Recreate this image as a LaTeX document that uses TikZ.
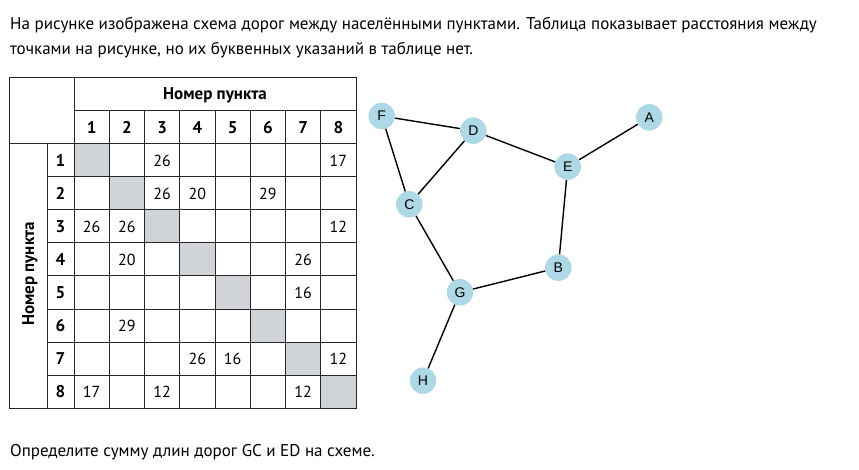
\documentclass[tikz,border=0pt]{standalone}
\usepackage{fontspec}
\setmainfont{PT Sans}
\newfontfamily\letterfont{Liberation Sans}
\usetikzlibrary{positioning}

\definecolor{cellgray}{RGB}{208,212,216}
\definecolor{townblue}{RGB}{173,216,230}

\begin{document}
\begin{tikzpicture}[
    x=1pt, y=-1pt,
    town/.style={circle, fill=townblue, minimum size=26.5pt, inner sep=0pt,
        font=\letterfont\fontsize{14}{14}\selectfont},
    road/.style={line width=1.4pt, black},
    gridline/.style={line width=1pt, black!85},
    cellnum/.style={font=\fontsize{16}{16}\selectfont, inner sep=0pt},
    headnum/.style={font=\bfseries\fontsize{17}{17}\selectfont, inner sep=0pt},
    prose/.style={anchor=west, inner sep=0pt, font=\fontsize{17}{19}\selectfont}
]
\useasboundingbox (0,0) rectangle (859,470);
\def\cw{35.25}
\def\ch{33}

% Question text
\node[prose] (intro1) at (10,25) {На рисунке изображена схема дорог между населёнными пунктами. Таблица показывает расстояния между};
\node[prose] (intro2) at (10,50) {точками на рисунке, но их буквенных указаний в таблице нет.};
\node[prose] (task) at (10,452) {Определите сумму длин дорог GC и ED на схеме.};

% Diagonal cells
\foreach \i in {1,...,8}
    \fill[cellgray] ({74+\cw*(\i-1)},{144+\ch*(\i-1)}) rectangle ++(\cw,\ch);

% Table grid
\draw[gridline] (9,78) rectangle (356,408);
\draw[gridline] (74,78) -- (74,408);
\draw[gridline] (74,111) -- (356,111);
\draw[gridline] (9,144) -- (356,144);
\draw[gridline] (47,144) -- (47,408);
\foreach \i in {1,...,7} {
    \draw[gridline] ({74+\cw*\i},111) -- ({74+\cw*\i},408);
    \draw[gridline] (47,{144+\ch*\i}) -- (356,{144+\ch*\i});
}

% Headers
\node[headnum] (coltitle) at (215,95) {Номер пункта};
\node[headnum, rotate=90] (rowtitle) at (30,274) {Номер пункта};
\foreach \i in {1,...,8} {
    \node[headnum] (col\i) at ({74+\cw*(\i-0.5)},127.5) {\i};
    \node[headnum] (row\i) at (60.5,{144+\ch*(\i-0.5)}) {\i};
}

% Distances
\foreach \r/\c/\v in {1/3/26, 1/8/17, 2/3/26, 2/4/20, 2/6/29, 3/1/26, 3/2/26,
    3/8/12, 4/2/20, 4/7/26, 5/7/16, 6/2/29, 7/4/26, 7/5/16, 7/8/12,
    8/1/17, 8/3/12, 8/7/12}
    \node[cellnum] (v\r\c) at ({74+\cw*(\c-0.5)},{144+\ch*(\r-0.5)}) {\v};

% Towns
\node[town] (F) at (381.7,116) {F};
\node[town] (D) at (473.3,130.7) {D};
\node[town] (E) at (567.7,166.7) {E};
\node[town] (A) at (649.3,117.3) {A};
\node[town] (C) at (409.3,204.3) {C};
\node[town] (G) at (460,292.3) {G};
\node[town] (B) at (558.3,267.7) {B};
\node[town] (H) at (423,380.7) {H};

% Roads
\draw[road] (F) -- (D);
\draw[road] (F) -- (C);
\draw[road] (D) -- (C);
\draw[road] (D) -- (E);
\draw[road] (E) -- (A);
\draw[road] (E) -- (B);
\draw[road] (C) -- (G);
\draw[road] (G) -- (B);
\draw[road] (G) -- (H);

\end{tikzpicture}
\end{document}
